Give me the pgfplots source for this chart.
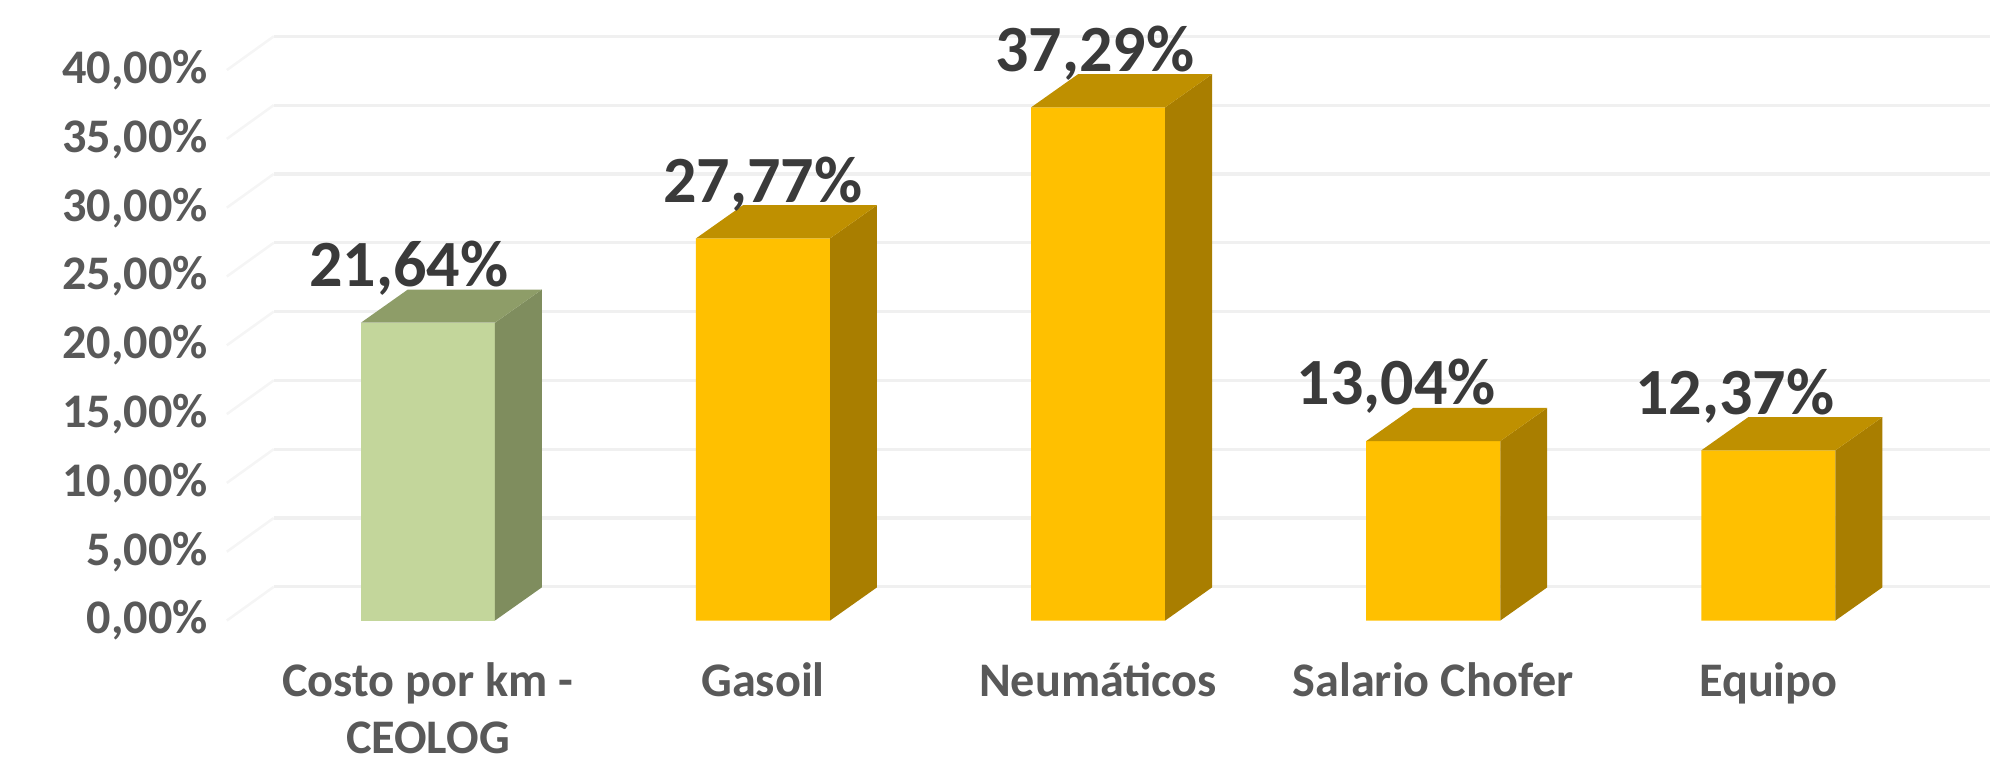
\documentclass[border=0pt]{standalone}
\usepackage{fontspec}
\setmainfont{Carlito}
\usepackage{pgfplots}
\pgfplotsset{compat=1.18}
\definecolor{tickgray}{HTML}{595959}
\definecolor{lblgray}{HTML}{3A3A3A}
\definecolor{gridc}{HTML}{F0F0F0}
\definecolor{gfront}{HTML}{C3D69B}
\definecolor{gside}{HTML}{7F8D5E}
\definecolor{gtop}{HTML}{8E9D68}
\definecolor{yfront}{HTML}{FFC000}
\definecolor{yside}{HTML}{A97E00}
\definecolor{ytop}{HTML}{BF9000}
\begin{document}
\begin{tikzpicture}
\useasboundingbox (0,0) rectangle (784bp,305.5bp);
\begin{axis}[
  at={(89bp,62bp)}, anchor=south west,
  x=131.5bp, y=5.4bp,
  xmin=-0.6, xmax=4.52, ymin=0, ymax=40,
  clip=false,
  axis x line*=bottom, axis y line*=left,
  axis line style={draw=none},
  major tick length=0pt,
  xtick={0,1,2,3,4},
  xticklabels={{Costo por km -\\CEOLOG},Gasoil,Neumáticos,{Salario Chofer},Equipo},
  xticklabel style={align=center, anchor=north, yshift=-13bp, font=\fontsize{19}{22.5}\selectfont\bfseries, text=tickgray},
  ytick={0,5,10,15,20,25,30,35,40},
  yticklabels={{0,00\%},{5,00\%},{10,00\%},{15,00\%},{20,00\%},{25,00\%},{30,00\%},{35,00\%},{40,00\%}},
  yticklabel style={anchor=east, xshift=-4bp, font=\fontsize{19}{22.5}\selectfont\bfseries, text=tickgray},
]
% back wall gridlines
\pgfplotsinvokeforeach{0,5,10,15,20,25,30,35,40}{
  \draw[gridc!70, line width=1bp] (axis cs:-0.6,#1) -- (axis cs:-0.46,#1+2.45);
  \draw[gridc, line width=1.2bp] (axis cs:-0.46,#1+2.45) -- (axis cs:4.66,#1+2.45);
}
% front faces
\addplot[ybar, bar width=52.6bp, bar shift=0pt, fill=gfront, draw=none] coordinates {(0,21.64)};
\addplot[ybar, bar width=52.6bp, bar shift=0pt, fill=yfront, draw=none] coordinates {(1,27.77) (2,37.29) (3,13.04) (4,12.37)};
% side faces
\addplot[fill=gside, draw=none] coordinates {(0.2,0) (0.34,2.41) (0.34,24.05) (0.2,21.64)} -- cycle;
\addplot[fill=yside, draw=none] coordinates {(1.2,0) (1.34,2.41) (1.34,30.18) (1.2,27.77)} -- cycle;
\addplot[fill=yside, draw=none] coordinates {(2.2,0) (2.34,2.41) (2.34,39.70) (2.2,37.29)} -- cycle;
\addplot[fill=yside, draw=none] coordinates {(3.2,0) (3.34,2.41) (3.34,15.45) (3.2,13.04)} -- cycle;
\addplot[fill=yside, draw=none] coordinates {(4.2,0) (4.34,2.41) (4.34,14.78) (4.2,12.37)} -- cycle;
% top faces
\addplot[fill=gtop, draw=none] coordinates {(-0.2,21.64) (0.2,21.64) (0.34,24.05) (-0.06,24.05)} -- cycle;
\addplot[fill=ytop, draw=none] coordinates {(0.8,27.77) (1.2,27.77) (1.34,30.18) (0.94,30.18)} -- cycle;
\addplot[fill=ytop, draw=none] coordinates {(1.8,37.29) (2.2,37.29) (2.34,39.70) (1.94,39.70)} -- cycle;
\addplot[fill=ytop, draw=none] coordinates {(2.8,13.04) (3.2,13.04) (3.34,15.45) (2.94,15.45)} -- cycle;
\addplot[fill=ytop, draw=none] coordinates {(3.8,12.37) (4.2,12.37) (4.34,14.78) (3.94,14.78)} -- cycle;
% data labels
\begin{scope}[every node/.style={font=\fontsize{26}{30}\selectfont\bfseries, text=lblgray, inner sep=0pt}]
\node at (axis cs:-0.057,25.6) {21,64\%};
\node at (axis cs:1.0,31.7) {27,77\%};
\node at (axis cs:1.99,41.25) {37,29\%};
\node at (axis cs:2.89,17.0) {13,04\%};
\node at (axis cs:3.9,16.3) {12,37\%};
\end{scope}
\end{axis}
\end{tikzpicture}
\end{document}
